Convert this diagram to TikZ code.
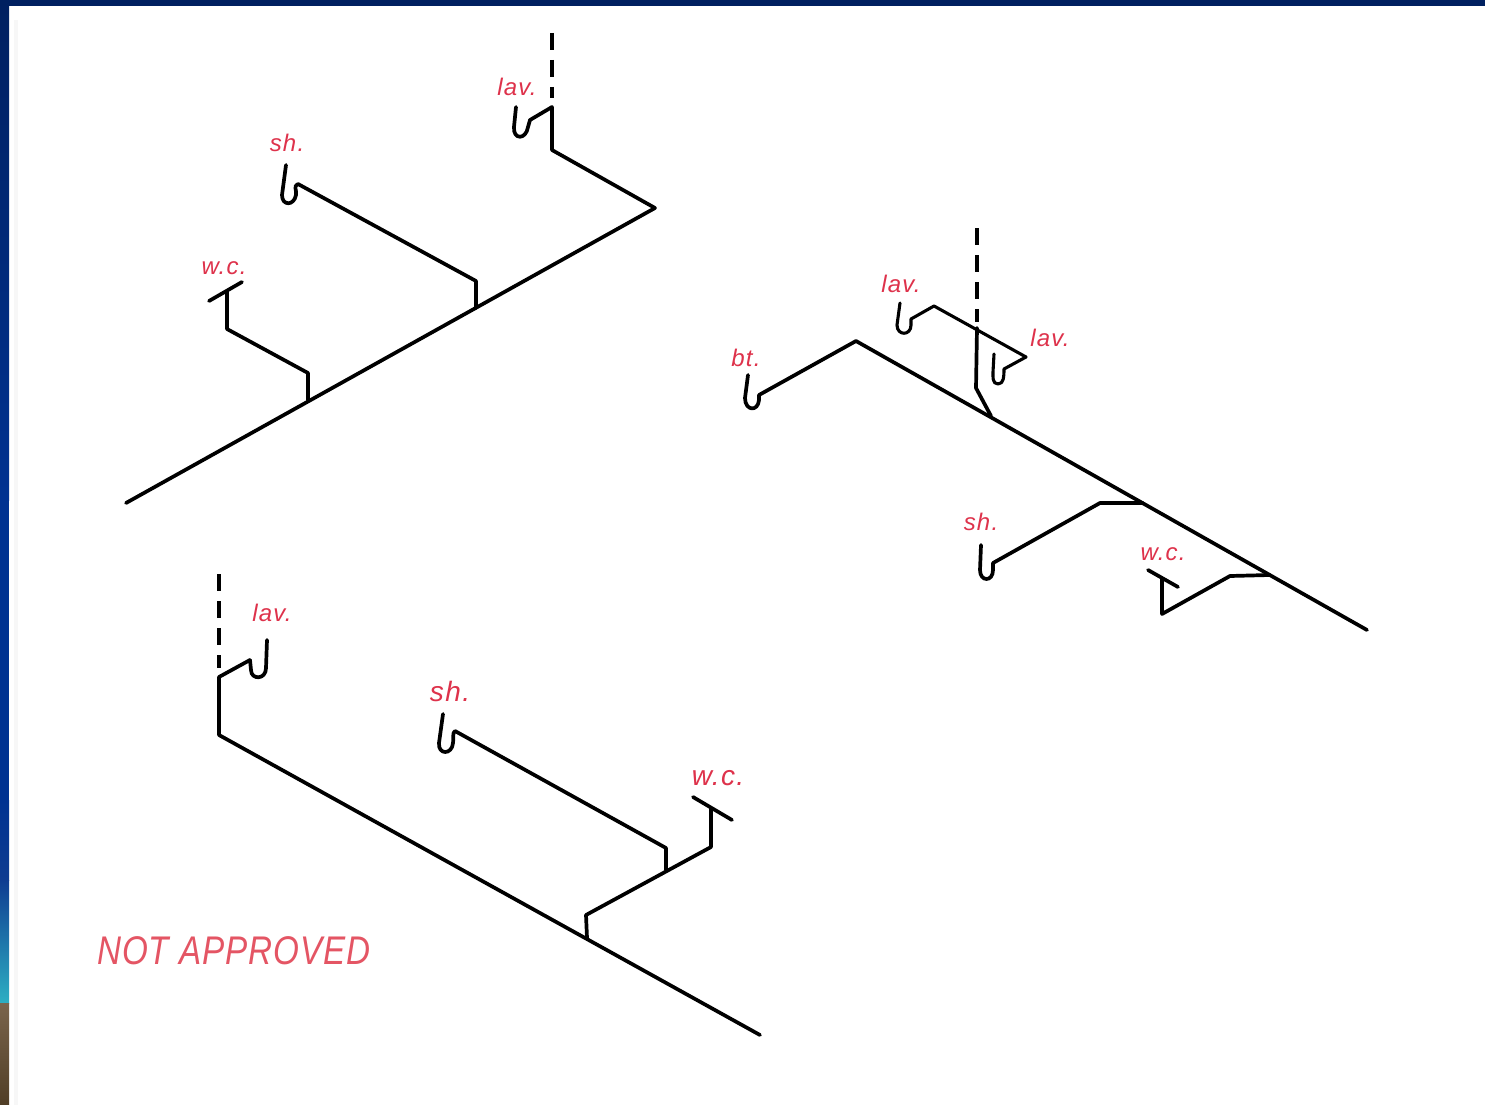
\documentclass[tikz,border=0pt]{standalone}
\usepackage{fontspec}
\setmainfont{Liberation Sans}
\definecolor{navy}{RGB}{0,32,96}
\definecolor{band}{RGB}{0,50,145}
\definecolor{bandB}{RGB}{15,60,145}
\definecolor{teal}{RGB}{45,175,195}
\definecolor{brownT}{RGB}{122,100,76}
\definecolor{brownB}{RGB}{80,62,38}
\definecolor{lab}{RGB}{222,50,75}
\definecolor{labL}{RGB}{228,85,100}
\tikzset{
  pipe/.style={draw=black,line width=3.7pt,line join=round,line cap=round},
  stack/.style={draw=black,line width=3.7pt,dash pattern=on 17pt off 10pt},
  thin pipe/.style={pipe,line width=3.1pt},
  lbl/.style={text=lab,font=\itshape\fontsize{24}{24}\selectfont\addfontfeature{LetterSpace=5},inner sep=0pt},
  mid lbl/.style={text=lab,font=\itshape\fontsize{28}{28}\selectfont\addfontfeature{LetterSpace=5},inner sep=0pt},
  big lbl/.style={text=labL,font=\itshape\fontsize{40}{40}\selectfont\addfontfeature{LetterSpace=3},inner sep=0pt,xscale=.83}
}
\begin{document}
\begin{tikzpicture}[x=1pt,y=-1pt]
\useasboundingbox (0,0) rectangle (1485,1105);
\fill[white] (0,0) rectangle (1485,1105);
\shade[top color=navy,bottom color=band] (0,0) rectangle (9,500);
\fill[band] (0,500) rectangle (9,800);
\shade[top color=band,bottom color=bandB] (0,800) rectangle (9,880);
\shade[top color=bandB,bottom color=teal] (0,880) rectangle (9,1003);
\shade[top color=brownT,bottom color=brownB] (0,1003) rectangle (9,1105);
\fill[navy] (0,0) rectangle (1485,6);
\fill[black!3] (14,20) rectangle (18,1105);
% upper left
\coordinate (a0) at (126,503);
\coordinate (a1) at (655,208);
\coordinate (a2) at (552,150);
\coordinate (a3) at (552,107);
\coordinate (a4) at (530,120);
\coordinate (a5) at (516,107);
\coordinate (aS) at (552,33);
\coordinate (aS1) at (552,98);
\coordinate (b0) at (476,308);
\coordinate (b1) at (476,281);
\coordinate (b2) at (298,184);
\coordinate (b3) at (286,165);
\coordinate (c0) at (308,400);
\coordinate (c1) at (308,373);
\coordinate (c2) at (227,329);
\coordinate (c3) at (227,292);
\coordinate (c4) at (209,301);
\coordinate (c5) at (242,282);
\path[pipe] (a0) -- (a1) -- (a2) -- (a3) -- (a4) -- (528,127) .. controls (526,140) and (513,140) .. (514,127) -- (a5);
\path[stack] (aS) -- (aS1);
\path[pipe] (b0) -- (b1) -- (b2) .. controls (293,186) and (297,190) .. (296,195) .. controls (294,206) and (282,206) .. (282,195) -- (b3);
\path[pipe] (c0) -- (c1) -- (c2) -- (c3);
\path[pipe] (c4) -- (c5);
\node[lbl] (n1) at (517,87) {lav.};
\node[lbl] (n2) at (287,143) {sh.};
\node[lbl] (n3) at (224,268) {w.c.};
% right
\coordinate (d0) at (748,375);
\coordinate (d1) at (759,395);
\coordinate (d2) at (856,341);
\coordinate (d3) at (1367,630);
\coordinate (e0) at (900,303);
\coordinate (e1) at (911,319);
\coordinate (e2) at (934,306);
\coordinate (e3) at (1026,357);
\coordinate (e4) at (1004,369);
\coordinate (e5) at (994,354);
\coordinate (fS) at (977,228);
\coordinate (fS1) at (977,322);
\coordinate (f0) at (977,328);
\coordinate (f1) at (976,388);
\coordinate (f2) at (991,416);
\coordinate (g0) at (1143,503);
\coordinate (g1) at (1100,503);
\coordinate (g2) at (993,563);
\coordinate (g3) at (981,545);
\coordinate (h0) at (1270,575);
\coordinate (h1) at (1230,576);
\coordinate (h2) at (1162,614);
\coordinate (h3) at (1162,579);
\coordinate (h4) at (1148,570);
\coordinate (h5) at (1178,587);
\path[pipe] (d0) -- (745,398) .. controls (745,411) and (758,412) .. (759,400) -- (d1) -- (d2) -- (d3);
\path[thin pipe] (e0) -- (897,325) .. controls (897,336) and (911,336) .. (911,325) -- (e1) -- (e2) -- (e3) -- (e4) .. controls (1004,376) and (1004,384) .. (998,384) .. controls (992,384) and (993,376) .. (993,372) -- (e5);
\path[stack] (fS) -- (fS1);
\path[pipe] (f0) -- (f1) -- (f2);
\path[pipe] (g0) -- (g1) -- (g2) -- (993,570) .. controls (993,582) and (980,582) .. (980,570) -- (g3);
\path[pipe] (h0) -- (h1) -- (h2) -- (h3);
\path[pipe] (h4) -- (h5);
\node[lbl] (n4) at (901,284) {lav.};
\node[lbl] (n5) at (1050,338) {lav.};
\node[lbl] (n6) at (746,358) {bt.};
\node[lbl] (n7) at (981,522) {sh.};
\node[lbl] (n8) at (1163,554) {w.c.};
% bottom
\coordinate (iS) at (219,574);
\coordinate (iS1) at (219,668);
\coordinate (i0) at (219,677);
\coordinate (i1) at (219,735);
\coordinate (i2) at (760,1035);
\coordinate (i3) at (250,660);
\coordinate (i4) at (267,640);
\coordinate (j0) at (666,870);
\coordinate (j1) at (666,848);
\coordinate (j2) at (455,731);
\coordinate (j3) at (443,714);
\coordinate (k0) at (587,938);
\coordinate (k1) at (586,915);
\coordinate (k2) at (711,847);
\coordinate (k3) at (711,808);
\coordinate (k4) at (693,797);
\coordinate (k5) at (732,820);
\path[stack] (iS) -- (iS1);
\path[pipe] (i3) -- (i0) -- (i1) -- (i2);
\path[pipe] (i3) -- (251,670) .. controls (251,680) and (266,680) .. (266,668) -- (i4);
\path[pipe] (j0) -- (j1) -- (j2) .. controls (452,733) and (454,738) .. (453,743) .. controls (452,755) and (438,755) .. (439,743) -- (j3);
\path[pipe] (k0) -- (k1) -- (k2) -- (k3);
\path[pipe] (k4) -- (k5);
\node[lbl] (n9) at (272,613) {lav.};
\node[mid lbl] (n10) at (450,691) {sh.};
\node[mid lbl] (n11) at (718,778) {w.c.};
\node[big lbl] (n12) at (234,951) {NOT APPROVED};
\end{tikzpicture}
\end{document}
